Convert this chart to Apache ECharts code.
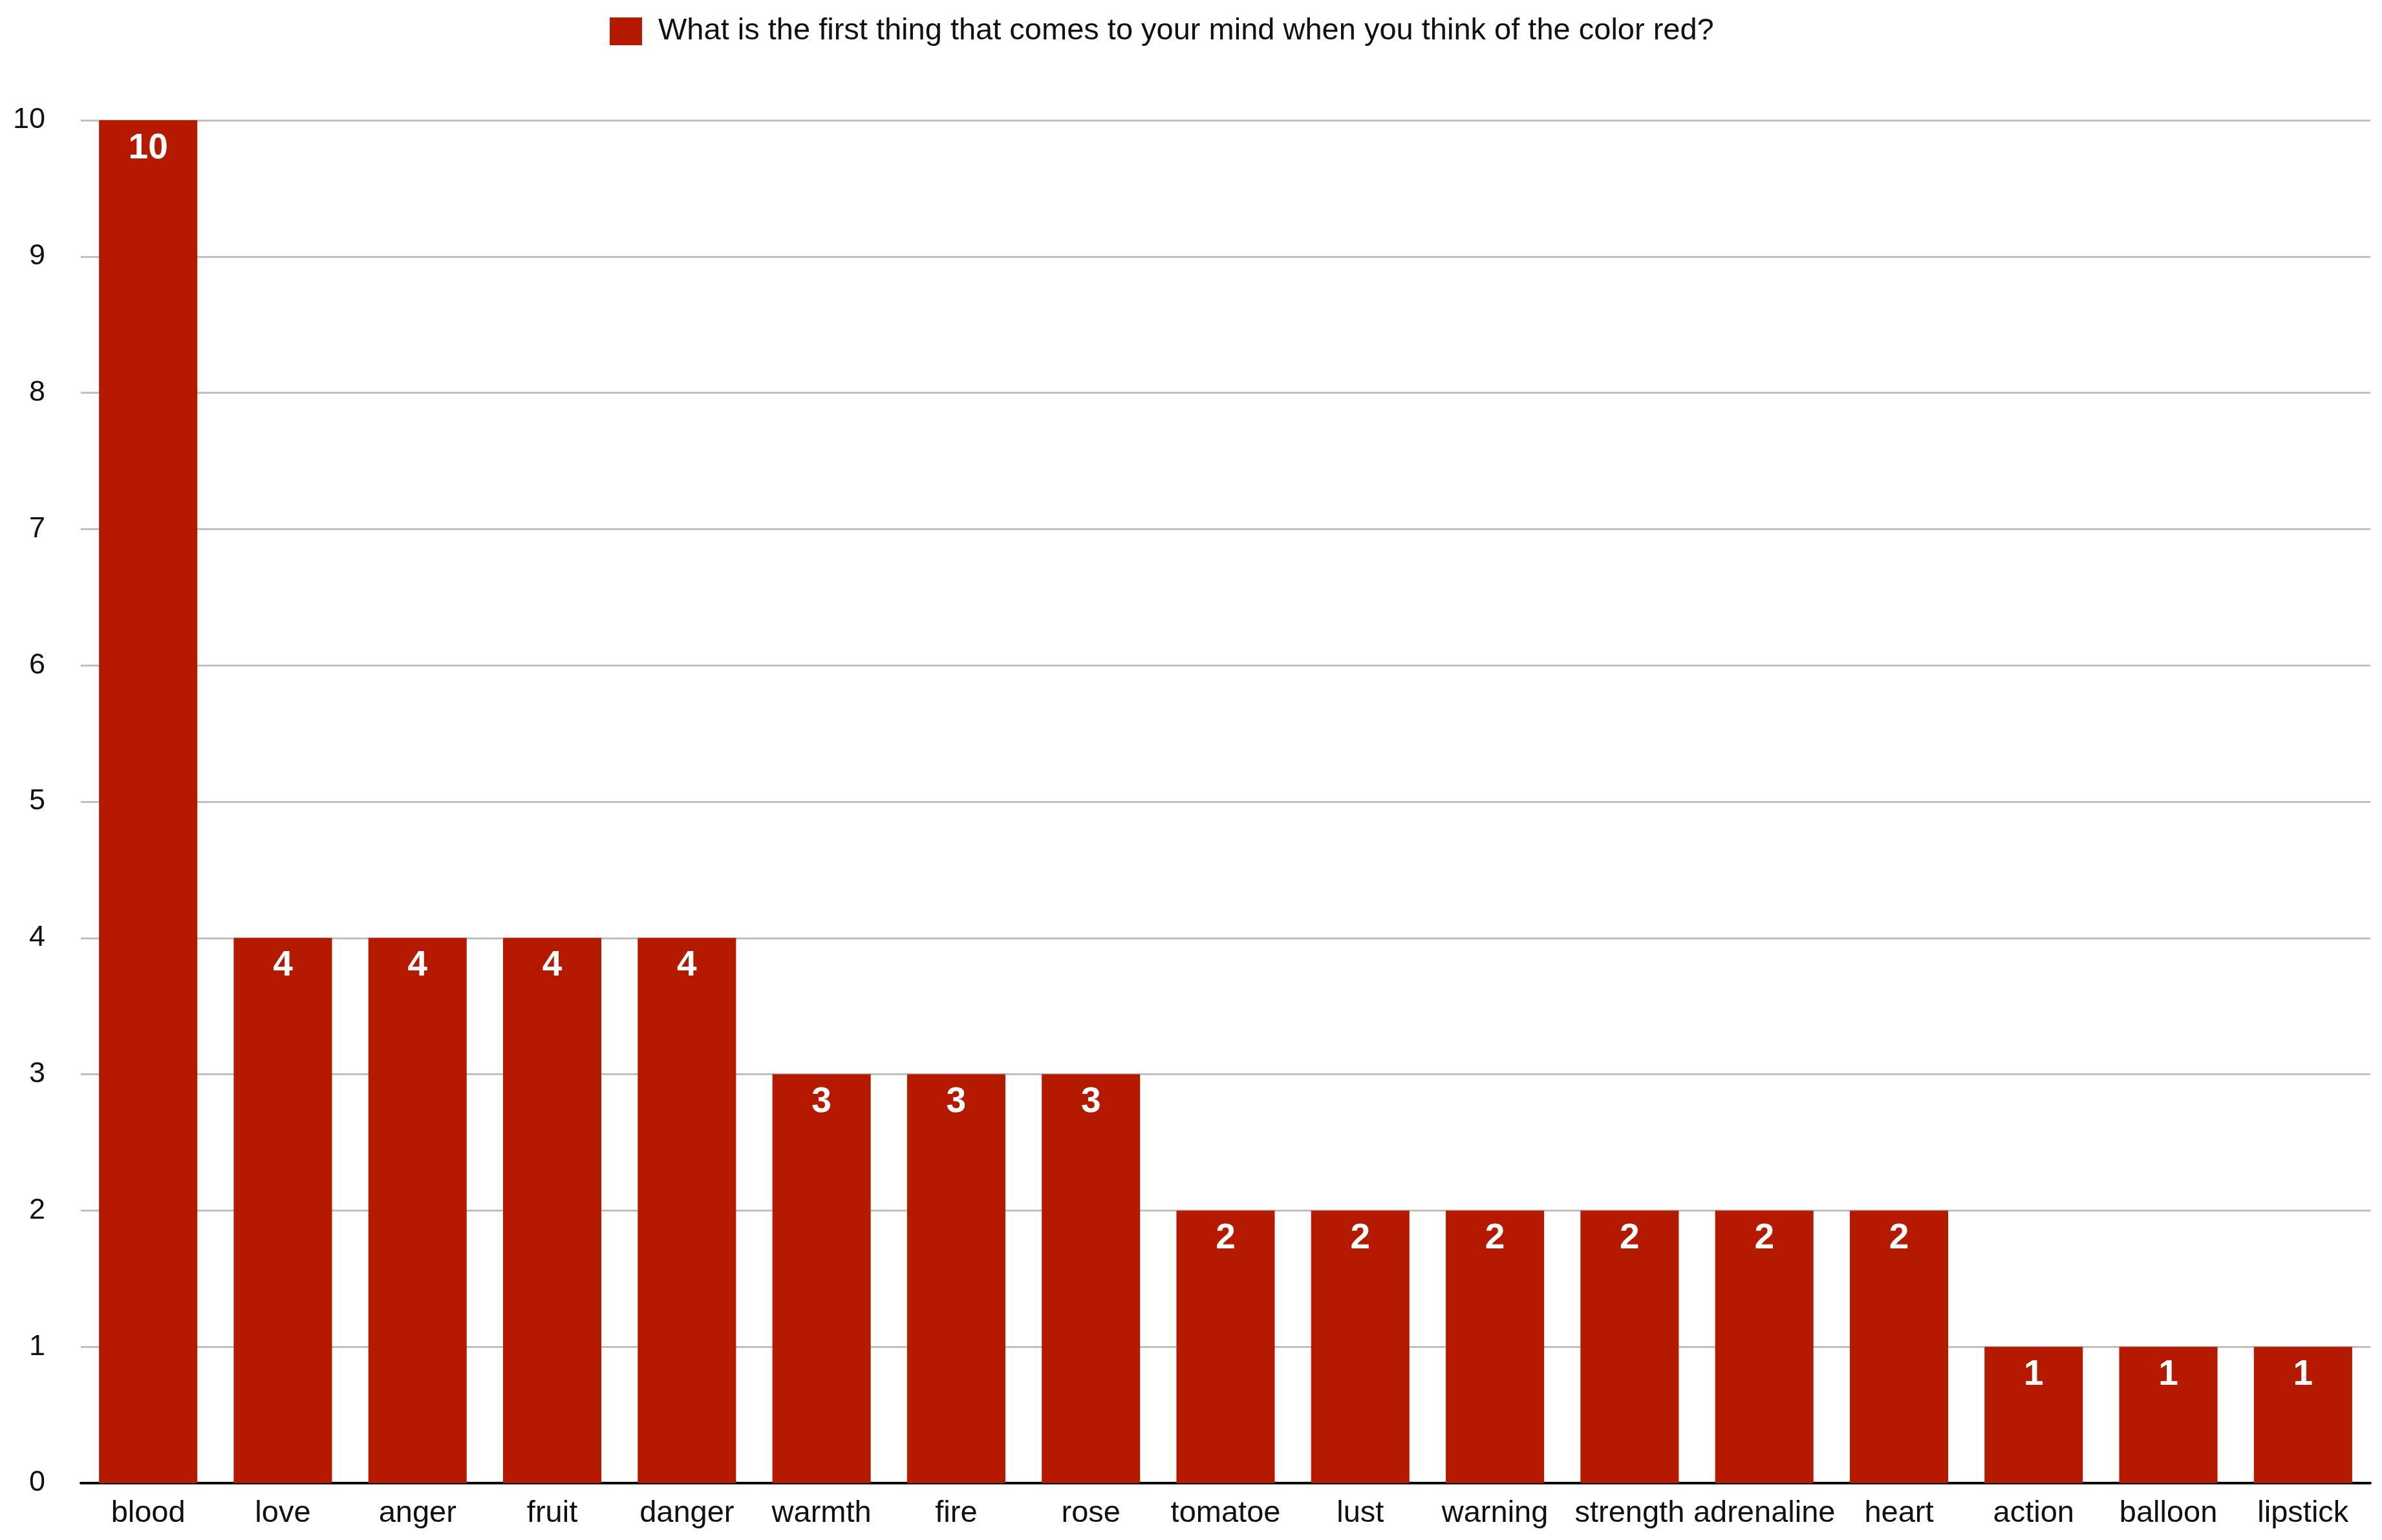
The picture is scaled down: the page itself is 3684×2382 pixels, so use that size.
<!DOCTYPE html>
<html>
<head>
<meta charset="utf-8">
<script src="https://cdn.jsdelivr.net/npm/echarts@6/dist/echarts.min.js"></script>
<style>
html,body{margin:0;padding:0;background:#fff;}
#chart{width:3684px;height:2382px;}
</style>
</head>
<body>
<div id="chart"></div>
<script>
const categories = ["blood","love","anger","fruit","danger","warmth","fire","rose","tomatoe","lust","warning","strength","adrenaline","heart","action","balloon","lipstick"];
const counts = [10,4,4,4,4,3,3,3,2,2,2,2,2,2,1,1,1];
const seriesName = "What is the first thing that comes to your mind when you think of the color red?";
const yTicks = {min:0, max:10, interval:1};

const FONT = "'Liberation Sans', Arial, Helvetica, sans-serif";
const chart = echarts.init(document.getElementById('chart'), null, {renderer:'canvas'});
chart.setOption({
  backgroundColor:'#ffffff',
  animation:false,
  legend:{
    data:[seriesName],
    left:938, top:20,
    itemWidth:50, itemHeight:43,
    icon:'rect',
    textStyle:{fontFamily:FONT, fontSize:47, color:'#111', padding:[0,0,0,20]}
  },
  grid:{left:125, right:18, top:186, bottom:88, containLabel:false},
  xAxis:{
    type:'category',
    data:categories,
    axisLine:{show:true, lineStyle:{color:'#000', width:4}},
    axisTick:{show:false},
    axisLabel:{interval:0, fontFamily:FONT, fontSize:47, color:'#111', margin:24}
  },
  yAxis:{
    type:'value',
    min:yTicks.min, max:yTicks.max, interval:yTicks.interval,
    axisLine:{show:false},
    axisTick:{show:false},
    splitLine:{show:true, lineStyle:{color:'#c0c0c0', width:3}},
    axisLabel:{fontFamily:FONT, fontSize:45, color:'#111', margin:55}
  },
  series:[{
    name:seriesName,
    type:'bar',
    data:counts,
    barCategoryGap:'27%',
    itemStyle:{color:'#b51a00'},
    label:{show:true, position:'insideTop', distance:16, color:'#fff', fontFamily:FONT, fontSize:55, fontWeight:'bold'}
  }]
});
</script>
</body>
</html>
